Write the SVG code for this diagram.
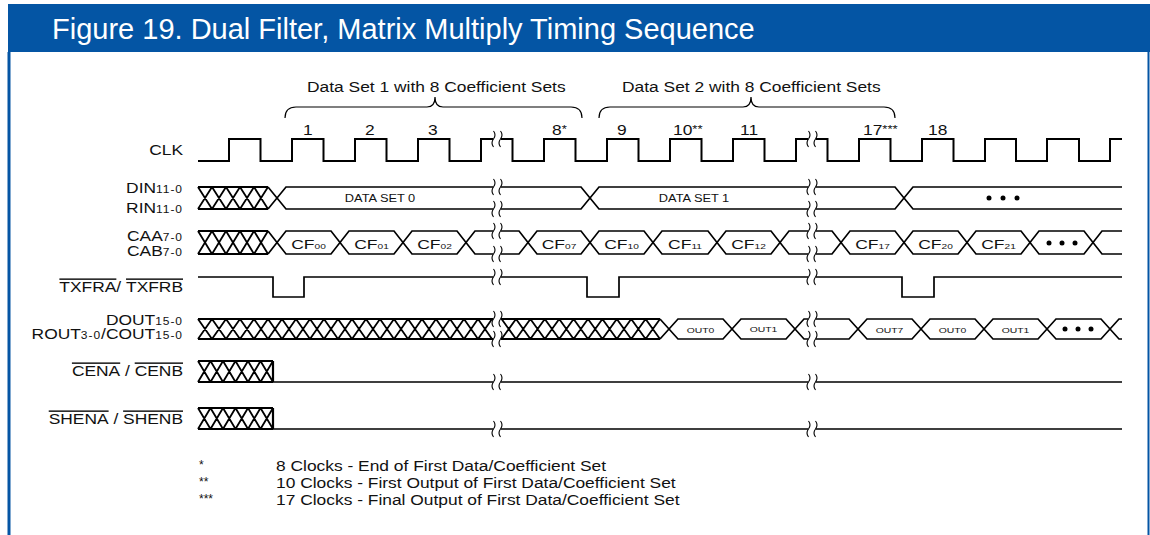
<svg xmlns="http://www.w3.org/2000/svg" xmlns:xlink="http://www.w3.org/1999/xlink" width="1150" height="535" viewBox="0 0 1150 535">
<style>
.t{font-family:"Liberation Sans",Arial,Helvetica,sans-serif;fill:#111}
.lb{font-size:14.5px;text-anchor:end}
.sb{font-size:10px;letter-spacing:0.8px}
.num{font-size:14.5px}
.st{font-size:11px}
.cf{font-size:13px;text-anchor:middle}
.cfs{font-size:7.5px}
.ds{font-size:10px;text-anchor:middle}
.out{font-size:8px;text-anchor:middle}
.hd{font-size:14.5px}
.fn{font-size:14.5px}
.ov{text-decoration:overline}
.w{fill:none;stroke:#000;stroke-width:1.7;stroke-linejoin:miter}
.clk{fill:none;stroke:#000;stroke-width:2}
.hx{fill:none;stroke:#000;stroke-width:1.8}
.hb{fill:none;stroke:#000;stroke-width:2.2}
.brk{fill:none;stroke:#000;stroke-width:1.1}
.br{fill:none;stroke:#000;stroke-width:1.2}
.dot{fill:#000}
</style>
<defs>
<path id="bk" class="brk" d="M-3.5,-8 q3,4 0,8 q-3,4 0,8 M3.5,-8 q3,4 0,8 q-3,4 0,8"/>
</defs>
<rect x="0" y="0" width="1150" height="535" fill="#fff"/>
<g id="frame">
<rect x="8" y="4" width="1142" height="48" fill="#0455a4"/>
<rect x="7.5" y="52" width="3" height="483" fill="#0455a4"/>
<rect x="1147.5" y="52" width="2" height="483" fill="#0455a4"/>
<text x="52" y="39" style="font-family:'Liberation Sans',Arial,sans-serif;font-size:29px;fill:#fff">Figure 19. Dual Filter, Matrix Multiply Timing Sequence</text>
</g>
<g id="braces">
<path class="br" d="M285,118 Q285,107 296,107 H427 Q435,107 435,97 Q435,107 443,107 H571 Q582,107 582,118"/>
<path class="br" d="M599,118 Q599,107 610,107 H743 Q751,107 751,97 Q751,107 759,107 H884 Q895,107 895,118"/>
<text class="t hd" transform="translate(307,92) scale(1.2,1)">Data Set 1 with 8 Coefficient Sets</text>
<text class="t hd" transform="translate(622,92) scale(1.2,1)">Data Set 2 with 8 Coefficient Sets</text>
</g>
<g id="clk">
<text class="t lb" transform="translate(183,155) scale(1.2,1)">CLK</text>
<path class="clk" d="M198,161 H229 V139 H260.5 V161 H292 V139 H323.5 V161 H355 V139 H386.5 V161 H418 V139 H449.5 V161 H481 V139 H493 M501,139 H512.5 V161 H544 V139 H575.5 V161 H607 V139 H638.5 V161 H670 V139 H701.5 V161 H733 V139 H764.5 V161 H796 V139 H808 M816,139 H827.5 V161 H859 V139 H890.5 V161 H922 V139 H953.5 V161 H985 V139 H1016 V161 H1047 V139 H1079 V161 H1110 V139 H1122"/>
<use xlink:href="#bk" x="497" y="139"/>
<use xlink:href="#bk" x="812" y="139"/>
<g class="t num">
<text transform="translate(303,135) scale(1.2,1)">1</text>
<text transform="translate(365,135) scale(1.2,1)">2</text>
<text transform="translate(428,135) scale(1.2,1)">3</text>
<text transform="translate(552,135) scale(1.2,1)">8<tspan class="st" dy="-2">*</tspan></text>
<text transform="translate(617,135) scale(1.2,1)">9</text>
<text transform="translate(673,135) scale(1.2,1)">10<tspan class="st" dy="-2">**</tspan></text>
<text transform="translate(740,135) scale(1.2,1)">11</text>
<text transform="translate(863,135) scale(1.2,1)">17<tspan class="st" dy="-2">***</tspan></text>
<text transform="translate(928,135) scale(1.2,1)">18</text>
</g>
</g>
<g id="din">
<text class="t lb" transform="translate(183,193) scale(1.2,1)">DIN<tspan class="sb">11-0</tspan></text>
<text class="t lb" transform="translate(183,213) scale(1.2,1)">RIN<tspan class="sb">11-0</tspan></text>
<path class="hb" d="M198,187 H268 M198,209 H268"/>
<path class="hx" d="M198,187 L212,209 M198,209 L212,187 M212,187 L226,209 M212,209 L226,187 M226,187 L240,209 M226,209 L240,187 M240,187 L254,209 M240,209 L254,187 M254,187 L268,209 M254,209 L268,187"/>
<path class="w" d="M268,187 L286,209 H493 M501,209 H581 L599,187 H808 M816,187 H895 L913,209 H1122"/>
<path class="w" d="M268,209 L286,187 H493 M501,187 H581 L599,209 H808 M816,209 H895 L913,187 H1122"/>
<use xlink:href="#bk" x="497" y="187"/><use xlink:href="#bk" x="497" y="209"/>
<use xlink:href="#bk" x="812" y="187"/><use xlink:href="#bk" x="812" y="209"/>
<text class="t ds" transform="translate(380,202) scale(1.28,1)">DATA SET 0</text>
<text class="t ds" transform="translate(694,202) scale(1.28,1)">DATA SET 1</text>
<circle class="dot" cx="989" cy="198" r="2.5"/><circle class="dot" cx="1003" cy="198" r="2.5"/><circle class="dot" cx="1017" cy="198" r="2.5"/>
</g>
<g id="caa">
<text class="t lb" transform="translate(183,241) scale(1.2,1)">CAA<tspan class="sb">7-0</tspan></text>
<text class="t lb" transform="translate(183,256) scale(1.2,1)">CAB<tspan class="sb">7-0</tspan></text>
<path class="hb" d="M198,231 H268 M198,254 H268"/>
<path class="hx" d="M198,231 L212,254 M198,254 L212,231 M212,231 L226,254 M212,254 L226,231 M226,231 L240,254 M226,254 L240,231 M240,231 L254,254 M240,254 L254,231 M254,231 L268,254 M254,254 L268,231"/>
<path class="w" d="M268,231 L286,254 H331 L349,231 H394 L412,254 H457 L475,231 H493 M501,231 H519 L537,254 H581 L599,231 H644 L662,254 H708 L726,231 H771 L789,254 H808 M816,254 H832 L850,231 H895 L913,254 H958 L976,231 H1021 L1039,254 H1084 L1102,231 H1122"/>
<path class="w" d="M268,254 L286,231 H331 L349,254 H394 L412,231 H457 L475,254 H493 M501,254 H519 L537,231 H581 L599,254 H644 L662,231 H708 L726,254 H771 L789,231 H808 M816,231 H832 L850,254 H895 L913,231 H958 L976,254 H1021 L1039,231 H1084 L1102,254 H1122"/>
<use xlink:href="#bk" x="497" y="231"/><use xlink:href="#bk" x="497" y="254"/>
<use xlink:href="#bk" x="812" y="231"/><use xlink:href="#bk" x="812" y="254"/>
<g class="t cf">
<text transform="translate(308.5,249) scale(1.35,1)">CF<tspan class="cfs">00</tspan></text>
<text transform="translate(371.5,249) scale(1.35,1)">CF<tspan class="cfs">01</tspan></text>
<text transform="translate(434.5,249) scale(1.35,1)">CF<tspan class="cfs">02</tspan></text>
<text transform="translate(559,249) scale(1.35,1)">CF<tspan class="cfs">07</tspan></text>
<text transform="translate(621.5,249) scale(1.35,1)">CF<tspan class="cfs">10</tspan></text>
<text transform="translate(685,249) scale(1.35,1)">CF<tspan class="cfs">11</tspan></text>
<text transform="translate(748.5,249) scale(1.35,1)">CF<tspan class="cfs">12</tspan></text>
<text transform="translate(872.5,249) scale(1.35,1)">CF<tspan class="cfs">17</tspan></text>
<text transform="translate(935.5,249) scale(1.35,1)">CF<tspan class="cfs">20</tspan></text>
<text transform="translate(998.5,249) scale(1.35,1)">CF<tspan class="cfs">21</tspan></text>
</g>
<circle class="dot" cx="1049" cy="243" r="2.5"/><circle class="dot" cx="1062" cy="243" r="2.5"/><circle class="dot" cx="1075" cy="243" r="2.5"/>
</g>
<g id="txfr">
<text class="t lb" transform="translate(183,292) scale(1.2,1)"><tspan class="ov">TXFRA</tspan>/ <tspan class="ov">TXFRB</tspan></text>
<path class="w" d="M198,277 H273 V297 H304 V277 H493 M501,277 H587 V297 H619 V277 H808 M816,277 H902 V297 H934 V277 H1122"/>
<use xlink:href="#bk" x="497" y="277"/><use xlink:href="#bk" x="812" y="277"/>
</g>
<g id="dout">
<text class="t lb" transform="translate(183,325) scale(1.2,1)">DOUT<tspan class="sb">15-0</tspan></text>
<text class="t lb" transform="translate(183,339) scale(1.2,1)">ROUT<tspan class="sb">3-0</tspan>/COUT<tspan class="sb">15-0</tspan></text>
<path class="hb" d="M198,319 H493 M501,319 H660 M198,339 H493 M501,339 H660"/>
<path class="hx" d="M198,319 L212,339 M198,339 L212,319 M212,319 L226,339 M212,339 L226,319 M226,319 L240,339 M226,339 L240,319 M240,319 L254,339 M240,339 L254,319 M254,319 L268,339 M254,339 L268,319 M268,319 L282,339 M268,339 L282,319 M282,319 L296,339 M282,339 L296,319 M296,319 L310,339 M296,339 L310,319 M310,319 L324,339 M310,339 L324,319 M324,319 L338,339 M324,339 L338,319 M338,319 L352,339 M338,339 L352,319 M352,319 L366,339 M352,339 L366,319 M366,319 L380,339 M366,339 L380,319 M380,319 L394,339 M380,339 L394,319 M394,319 L408,339 M394,339 L408,319 M408,319 L422,339 M408,339 L422,319 M422,319 L436,339 M422,339 L436,319 M436,319 L450,339 M436,339 L450,319 M450,319 L464,339 M450,339 L464,319 M464,319 L478,339 M464,339 L478,319 M478,319 L492,339 M478,339 L492,319 M501.6,319 L516,339 M501.6,339 L516,319 M516,319 L530.4,339 M516,339 L530.4,319 M530.4,319 L544.8,339 M530.4,339 L544.8,319 M544.8,319 L559.2,339 M544.8,339 L559.2,319 M559.2,319 L573.6,339 M559.2,339 L573.6,319 M573.6,319 L588,339 M573.6,339 L588,319 M588,319 L602.4,339 M588,339 L602.4,319 M602.4,319 L616.8,339 M602.4,339 L616.8,319 M616.8,319 L631.2,339 M616.8,339 L631.2,319 M631.2,319 L645.6,339 M631.2,339 L645.6,319 M645.6,319 L660,339 M645.6,339 L660,319"/>
<path class="w" d="M660,319 L678,339 H723 L741,319 H786 L804,339 H808 M816,339 H849 L867,319 H912 L930,339 H975 L993,319 H1038 L1056,339 H1101 L1119,319 H1122"/>
<path class="w" d="M660,339 L678,319 H723 L741,339 H786 L804,319 H808 M816,319 H849 L867,339 H912 L930,319 H975 L993,339 H1038 L1056,319 H1101 L1119,339 H1122"/>
<use xlink:href="#bk" x="497" y="319"/><use xlink:href="#bk" x="497" y="339"/>
<use xlink:href="#bk" x="812" y="319"/><use xlink:href="#bk" x="812" y="339"/>
<g class="t out">
<text transform="translate(700.5,333) scale(1.3,1)">OUT0</text>
<text transform="translate(763.5,332) scale(1.3,1)">OUT1</text>
<text transform="translate(889.5,333) scale(1.3,1)">OUT7</text>
<text transform="translate(952.5,333) scale(1.3,1)">OUT0</text>
<text transform="translate(1015.5,333) scale(1.3,1)">OUT1</text>
</g>
<circle class="dot" cx="1065" cy="329" r="2.5"/><circle class="dot" cx="1078" cy="329" r="2.5"/><circle class="dot" cx="1091" cy="329" r="2.5"/>
</g>
<g id="cen">
<text class="t lb" transform="translate(183,376) scale(1.2,1)"><tspan class="ov">CENA</tspan> / <tspan class="ov">CENB</tspan></text>
<path class="hb" d="M198,361 H273 M198,382 H273 M273,361 V382"/>
<path class="hx" d="M198,361 L210.5,382 M198,382 L210.5,361 M210.5,361 L223,382 M210.5,382 L223,361 M223,361 L235.5,382 M223,382 L235.5,361 M235.5,361 L248,382 M235.5,382 L248,361 M248,361 L260.5,382 M248,382 L260.5,361 M260.5,361 L273,382 M260.5,382 L273,361"/>
<path class="w" d="M273,382 H493 M501,382 H808 M816,382 H1122"/>
<use xlink:href="#bk" x="497" y="382"/><use xlink:href="#bk" x="812" y="382"/>
</g>
<g id="shen">
<text class="t lb" transform="translate(183,424) scale(1.2,1)"><tspan class="ov">SHENA</tspan> / <tspan class="ov">SHENB</tspan></text>
<path class="hb" d="M198,408 H273 M198,429 H273 M273,408 V429"/>
<path class="hx" d="M198,408 L210.5,429 M198,429 L210.5,408 M210.5,408 L223,429 M210.5,429 L223,408 M223,408 L235.5,429 M223,429 L235.5,408 M235.5,408 L248,429 M235.5,429 L248,408 M248,408 L260.5,429 M248,429 L260.5,408 M260.5,408 L273,429 M260.5,429 L273,408"/>
<path class="w" d="M273,429 H493 M501,429 H808 M816,429 H1122"/>
<use xlink:href="#bk" x="497" y="429"/><use xlink:href="#bk" x="812" y="429"/>
</g>
<g id="notes" class="t">
<text x="199" y="469" style="font-size:12px">*</text>
<text x="199" y="486" style="font-size:12px">**</text>
<text x="199" y="503" style="font-size:12px">***</text>
<text class="fn" transform="translate(276,471) scale(1.2,1)">8 Clocks - End of First Data/Coefficient Set</text>
<text class="fn" transform="translate(276,488) scale(1.2,1)">10 Clocks - First Output of First Data/Coefficient Set</text>
<text class="fn" transform="translate(276,505) scale(1.2,1)">17 Clocks - Final Output of First Data/Coefficient Set</text>
</g>
</svg>
